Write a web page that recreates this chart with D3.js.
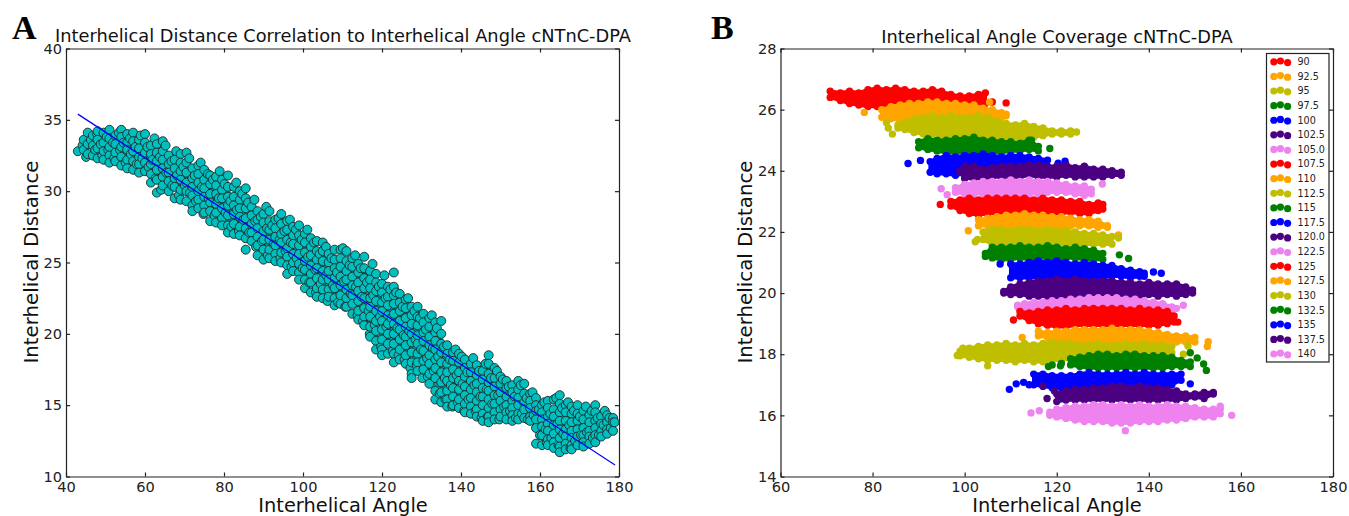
<!DOCTYPE html>
<html><head><meta charset="utf-8">
<script src="https://cdn.jsdelivr.net/npm/d3@7"></script>
<style>
html,body{margin:0;padding:0;background:#fff;overflow:hidden}
svg{display:block}
text{font-family:"DejaVu Sans",sans-serif;fill:#111}
.axis path,.axis line{stroke:#222;stroke-width:1.2;shape-rendering:auto}
.axis text{font-size:14.6px;fill:#222;font-family:"DejaVu Sans",sans-serif}
</style></head><body>
<svg id="chart" width="1349" height="516"></svg>
<script>
// ---------- Panel A: interhelical angle (column) and the distances read in that column ----------
const scatterAngles=[43,44.5,45.5,46.8,48,49.5,51,52.5,54,55.5,57,58.5,60,61.5,63,64.5,66,67.5,69,70.5,72,73.5,75,76.5,78,79.5,81,82.5,84,85.5,87,88.5,90,91.5,93,94.5,96,97.5,99,100.5,102,103.5,105,106.5,108,109.5,111,112.5,114,115.5,117,118.5,120,121.5,123,124.5,126,127.5,129,130.5,132,133.5,135,136.5,138,139.5,141,142.5,144,145.5,147,148.5,150,151.5,153,154.5,156,157.5,159,160.5,162,163.5,165,166.5,168,169.5,171,172.5,174,175.5,177,178.5];
const scatterDistances=[
[32.8],[33.6,32.9],[34.1,33.3,32.6],[33.9,33.2,32.5],[34.2,33.6,33.0,32.3],[34.1,33.4,32.8,32.2],[34.3,33.7,33.1,32.5,32.0],[33.9,33.3,32.7,32.1],[34.3,33.8,33.1,32.4,31.8],[34.0,33.4,32.9,32.2,31.6],[34.1,33.5,32.8,32.1,31.5],[33.6,33.0,32.4,31.9,31.3],[34.0,33.4,32.7,32.0,31.4],[33.2,32.6,31.9,31.2,30.6],[33.3,32.7,32.1,31.5,30.8,29.9],[33.5,32.8,32.2,31.6,31.0,30.4],[32.5,31.9,31.3,30.7,30.0],[32.2,31.6,30.9,30.3,29.5],[32.6,32.0,31.4,30.8,30.1,29.4],[32.7,32.0,31.3,30.6,30.0,29.3],[31.6,30.9,30.3,29.7,29.0,28.6],[31.8,31.2,30.6,30.0,29.4,28.8],[31.5,30.8,30.2,29.6,29.0,28.5],[31.1,30.5,29.8,29.2,28.6,27.9],[31.0,30.4,29.8,29.1,28.5,27.8],[30.8,30.1,29.5,28.8,28.1,27.6],[31.1,30.3,29.6,29.0,28.3,27.6,27.1],[30.3,29.6,29.0,28.4,27.7,27.0],[30.0,29.4,28.8,28.2,27.5,26.9],[30.2,29.5,28.8,28.1,27.4,26.7,25.9],[28.9,28.3,27.7,27.1,26.5],[28.6,28.0,27.4,26.8,26.2,25.5],[28.4,27.8,27.2,26.6,25.9,25.2],[28.6,27.9,27.3,26.6,25.9,25.3],[28.0,27.4,26.8,26.2,25.6,25.1],[28.4,27.7,27.0,26.4,25.7,25.0],[27.9,27.3,26.6,26.0,25.4,24.8,24.2],[27.5,26.9,26.3,25.6,25.0,24.4],[27.6,26.9,26.2,25.6,24.9,24.3,23.8],[27.0,26.4,25.7,25.1,24.5,23.8,23.2],[26.7,26.1,25.5,24.8,24.2,23.6,22.9],[26.5,25.8,25.2,24.6,23.9,23.2,22.6],[26.4,25.8,25.1,24.4,23.8,23.1,22.5],[25.6,25.0,24.4,23.8,23.1,22.6],[25.9,25.2,24.6,23.9,23.2,22.5,22.0],[25.9,25.3,24.7,24.0,23.4,22.7,22.1],[25.8,25.1,24.4,23.8,23.1,22.5,21.9],[25.3,24.7,24.0,23.4,22.7,22.1,21.4],[24.9,24.3,23.6,23.0,22.3,21.6,21.0],[25.4,24.6,23.9,23.2,22.5,21.8,21.2,20.6],[24.4,23.8,23.2,22.5,21.9,21.2,20.5,19.8],[24.2,23.6,23.0,22.3,21.6,20.9,20.2,19.5,18.9],[23.5,22.9,22.2,21.6,20.9,20.3,19.6,18.9,18.5],[23.3,22.6,22.0,21.3,20.7,20.0,19.3,18.6],[24.3,23.3,22.7,22.1,21.4,20.7,20.0,19.3,18.6,18.0],[22.8,22.2,21.6,20.9,20.3,19.6,18.9,18.2],[22.4,21.8,21.1,20.5,19.8,19.2,18.5,17.9],[21.9,21.3,20.7,20.0,19.4,18.7,18.0,17.2,16.9],[21.9,21.2,20.6,19.9,19.3,18.6,18.0,17.4],[21.4,20.8,20.1,19.5,18.8,18.1,17.5],[21.1,20.5,19.8,19.2,18.5,17.9,17.2,16.5],[20.8,20.1,19.5,18.9,18.2,17.6,16.9,16.0,15.4],[20.9,20.0,19.3,18.7,18.0,17.3,16.6,15.9,15.2],[19.2,18.6,17.9,17.3,16.7,16.0,15.4,14.9],[18.7,18.1,17.5,16.9,16.2,15.6,15.0],[18.6,18.0,17.3,16.7,16.1,15.4,14.8],[18.2,17.6,17.0,16.3,15.7,15.1,14.5],[17.9,17.3,16.7,16.1,15.5,14.9,14.4],[17.8,17.1,16.5,15.9,15.3,14.7,14.2],[17.4,16.8,16.2,15.6,15.0,14.4,13.9],[18.5,17.9,17.2,16.6,16.0,15.4,14.8,14.2,13.8],[17.6,16.9,16.3,15.7,15.1,14.5,14.0],[17.0,16.5,15.9,15.3,14.7,14.2],[16.7,16.2,15.6,15.0,14.5,14.0],[16.4,15.9,15.3,14.8,14.3,13.9],[16.7,16.1,15.5,15.0,14.4,14.0],[16.5,15.8,15.2,14.7,14.1],[15.8,15.3,14.8,14.2,13.9],[15.5,15.0,14.6,14.0,13.4,12.3],[15.0,14.5,14.0,13.5,12.9,12.2],[15.3,14.8,14.2,13.7,13.2,12.6,12.2],[15.4,14.7,14.2,13.6,13.0,12.4,12.0],[15.7,15.1,14.5,13.9,13.3,12.7,12.1,11.7],[15.0,14.5,13.9,13.3,12.8,12.3,11.9],[14.9,14.4,13.8,13.2,12.7,12.2,11.9],[15.0,14.4,13.9,13.3,12.8,12.2],[14.6,14.0,13.4,12.9,12.4,12.1],[14.3,13.8,13.2,12.8,12.3],[15.0,14.5,13.9,13.4,12.9,12.4],[14.2,13.7,13.2,12.8],[14.3,13.8,13.3,13.0],[14.1,13.8,13.2]];
// further points that sit between those columns: [angle, distance]
const scatterInBetween=[[44.2,33.2],[45.1,32.4],[46.3,33.6],[47.4,32.9],[47.9,34.0],[48.8,33.3],[49.2,32.5],[50.3,33.8],[50.7,32.9],[51.9,33.4],[52.2,32.3],[53.4,34.1],[53.7,32.9],[54.6,33.4],[55.1,32.0],[56.2,33.7],[56.4,32.6],[57.6,33.1],[57.9,31.9],[58.9,33.9],[59.3,32.3],[60.6,33.1],[60.9,31.7],[61.9,32.2],[62.4,33.7],[62.7,30.9],[63.8,32.4],[64.1,30.1],[65.2,33.2],[65.4,31.3],[66.7,32.1],[66.9,30.4],[67.9,32.8],[68.1,31.1],[68.6,29.7],[69.7,31.7],[70.1,30.4],[71.2,32.3],[71.4,29.9],[72.6,31.1],[72.9,29.3],[74.1,32.0],[74.4,30.3],[74.8,28.4],[75.9,31.2],[76.1,29.5],[77.2,30.8],[77.6,28.3],[78.7,29.5],[78.9,31.4],[80.1,30.5],[80.4,28.5],[81.6,29.3],[81.9,27.5],[83.1,30.6],[83.3,28.7],[83.8,27.2],[84.6,29.8],[84.9,28.0],[86.1,29.2],[86.4,27.1],[87.7,29.4],[87.9,27.9],[88.1,26.1],[89.3,28.2],[89.6,26.5],[90.7,28.9],[90.9,27.4],[91.1,25.5],[92.2,27.6],[92.6,26.3],[93.8,28.1],[94.1,26.6],[94.3,25.3],[95.3,27.2],[95.6,25.8],[96.7,28.0],[96.9,26.4],[97.1,24.7],[98.2,27.3],[98.4,25.3],[99.7,26.6],[99.9,24.6],[101.1,27.3],[101.3,25.4],[101.6,23.6],[102.8,26.4],[103.1,24.5],[103.3,22.9],[104.2,25.6],[104.5,23.5],[105.8,26.1],[105.9,24.1],[106.2,22.3],[107.2,25.3],[107.6,23.4],[108.6,24.3],[108.9,22.2],[110.1,26.0],[110.4,23.7],[110.7,21.9],[111.8,24.8],[112.1,22.8],[113.2,25.5],[113.4,23.3],[113.8,21.3],[114.6,24.6],[114.9,22.6],[115.2,20.9],[116.2,23.6],[116.6,21.6],[116.9,20.0],[117.6,24.9],[117.8,22.7],[118.2,20.6],[119.2,23.3],[119.5,21.2],[119.8,19.1],[120.6,24.1],[120.9,22.5],[121.1,20.5],[122.1,23.1],[122.4,21.1],[122.7,18.8],[123.6,22.9],[123.9,20.4],[124.2,18.5],[125.2,21.9],[125.5,19.9],[125.7,18.2],[126.6,22.5],[126.9,20.2],[127.2,17.6],[128.2,21.6],[128.5,19.6],[128.8,17.8],[129.6,21.1],[129.9,18.9],[130.2,16.9],[131.1,20.3],[131.4,18.3],[131.6,17.0],[132.6,21.3],[132.9,19.0],[133.1,17.4],[133.9,20.4],[134.2,18.4],[134.6,15.8],[135.7,19.1],[135.9,16.9],[136.1,15.4],[137.2,18.2],[137.4,16.4],[137.8,14.9],[138.6,18.9],[138.9,17.1],[139.2,15.2],[140.2,18.4],[140.4,16.5],[140.8,14.6],[141.6,17.3],[141.9,15.4],[143.1,18.3],[143.4,16.4],[143.7,14.6],[144.6,17.4],[144.9,15.6],[145.2,14.1],[146.2,17.9],[146.5,16.1],[146.8,14.2],[147.6,16.9],[147.9,15.1],[149.1,17.4],[149.4,15.7],[149.7,14.0],[150.6,16.8],[150.9,14.9],[152.1,16.3],[152.4,14.6],[153.6,15.6],[153.9,14.1],[155.1,16.4],[155.4,14.4],[156.6,15.5],[156.9,14.0],[158.1,15.9],[158.4,14.3],[159.7,14.7],[160,12.9],[161.1,15.2],[161.4,13.3],[161.7,12.4],[162.6,14.4],[162.9,12.7],[164.1,15.5],[164.4,13.7],[164.7,12.2],[165.6,14.8],[165.9,13.0],[167.1,15.2],[167.4,13.6],[167.7,12.0],[168.6,14.6],[168.9,12.5],[170.1,14.2],[170.4,12.9],[171.6,14.9],[171.9,13.1],[173.1,14.6],[173.4,12.7],[174.6,14.1],[174.9,12.9],[176.1,13.6],[176.4,14.6],[177.6,14.1],[177.9,13.4],[178.9,13.8]];
const fitLineAngle=[43,179];
const fitLineDistance=[35.4,10.8];

// ---------- Panel B: legend labels, colours, band edges [angle, top distance, bottom distance] and stray points ----------
const seriesLabels=["90","92.5","95","97.5","100","102.5","105.0","107.5","110","112.5","115","117.5","120.0","122.5","125","127.5","130","132.5","135","137.5","140"];
const seriesColours=["#ff0000","#ffa500","#bfbf00","#008000","#0000ff","#4b0082","#ee82ee"];
const band90=[[70.8,26.6,26.4],[73,26.55,26.3],[75,26.6,26.2],[77,26.55,26.15],[79,26.65,26.1],[81,26.7,26.1],[83,26.65,26.15],[85,26.7,26.15],[87,26.65,26.15],[89,26.6,26.1],[91,26.6,26.1],[93,26.65,26.15],[95,26.6,26.1],[97,26.5,26.1],[99,26.45,26.1],[101,26.45,26.1],[103,26.5,26.15],[104.5,26.55,26.2]];
const band92=[[82,26.0,25.75],[84,26.1,25.7],[86,26.15,25.65],[88,26.2,25.6],[90,26.2,25.55],[92,26.25,25.6],[94,26.25,25.6],[96,26.2,25.6],[98,26.2,25.6],[100,26.15,25.6],[102,26.15,25.65],[104,26.05,25.65],[106,26.0,25.7],[108,25.9,25.75],[109,25.85,25.8]];
const band95=[[85.5,25.5,25.4],[87,25.6,25.35],[89,25.7,25.25],[91,25.75,25.2],[93,25.8,25.2],[95,25.75,25.15],[97,25.8,25.15],[99,25.75,25.15],[101,25.75,25.15],[103,25.8,25.1],[105,25.75,25.1],[107,25.65,25.1],[109,25.55,25.1],[111,25.5,25.1],[113,25.55,25.05],[115,25.45,25.1],[117,25.4,25.15],[119,25.3,25.2],[121,25.3,25.2],[123,25.3,25.2]];
const band97=[[90,24.95,24.75],[92,25.05,24.7],[94,25.0,24.65],[96,25.0,24.6],[98,25.05,24.6],[100,25.05,24.6],[102,25.1,24.6],[104,25.0,24.6],[106,25.0,24.6],[108,24.95,24.6],[110,24.95,24.65],[112,24.9,24.65],[114,25.0,24.7],[116,24.8,24.65]];
const band100=[[92.5,24.3,23.95],[94,24.4,23.9],[96,24.5,23.9],[98,24.45,23.85],[100,24.5,23.9],[102,24.5,24.0],[104,24.55,24.0],[106,24.5,24.0],[108,24.45,24.0],[110,24.5,24.0],[112,24.5,24.0],[114,24.45,24.0],[116,24.4,24.0],[118,24.35,24.05]];
const band102=[[99,24.0,23.95],[100,24.15,23.75],[102,24.15,23.75],[104,24.05,23.75],[106,24.1,23.8],[108,24.15,23.8],[110,24.15,23.8],[112,24.15,23.8],[114,24.2,23.85],[116,24.2,23.8],[118,24.15,23.8],[120,24.15,23.8],[122,24.2,23.85],[124,24.1,23.8],[126,24.15,23.8],[128,24.05,23.8],[130,24.05,23.8],[132,24.0,23.85],[134,23.95,23.85]];
const band105=[[98,23.45,23.3],[100,23.55,23.25],[102,23.6,23.25],[104,23.65,23.25],[106,23.65,23.25],[108,23.65,23.25],[110,23.7,23.25],[112,23.65,23.25],[114,23.7,23.25],[116,23.65,23.25],[118,23.65,23.3],[120,23.6,23.3],[122,23.55,23.3],[124,23.5,23.25],[126,23.5,23.2],[127.5,23.4,23.25]];
const band107=[[97,23.0,22.85],[99,23.05,22.7],[101,23.1,22.6],[103,23.05,22.55],[105,23.1,22.6],[107,23.1,22.6],[109,23.1,22.6],[111,23.1,22.6],[113,23.1,22.6],[115,23.05,22.6],[117,23.1,22.6],[119,23.05,22.6],[121,23.05,22.6],[123,23.0,22.65],[125,23.0,22.6],[127,22.9,22.6],[129,22.95,22.7],[130,22.9,22.75]];
const band110=[[103,22.4,22.2],[105,22.45,22.2],[107,22.5,22.2],[109,22.55,22.2],[111,22.55,22.2],[113,22.6,22.2],[115,22.55,22.2],[117,22.55,22.2],[119,22.5,22.2],[121,22.5,22.2],[123,22.45,22.2],[125,22.4,22.2],[127,22.4,22.2],[129,22.35,22.15],[131,22.2,22.15]];
const band112=[[104,22.0,21.75],[106,22.1,21.6],[108,22.1,21.6],[110,22.05,21.6],[112,22.1,21.6],[114,22.1,21.6],[116,22.05,21.6],[118,22.1,21.6],[120,22.05,21.6],[122,22.05,21.6],[124,22.0,21.6],[126,21.95,21.6],[128,21.95,21.6],[130,21.9,21.6],[132,21.85,21.6]];
const band115=[[104.5,21.3,21.2],[106,21.5,21.15],[108,21.5,21.1],[110,21.5,21.1],[112,21.55,21.15],[114,21.5,21.1],[116,21.5,21.15],[118,21.55,21.15],[120,21.5,21.1],[122,21.45,21.15],[124,21.5,21.15],[126,21.45,21.1],[128,21.4,21.1],[130,21.3,21.1]];
const band117=[[110,20.95,20.5],[112,20.95,20.5],[114,21.0,20.5],[116,21.05,20.5],[118,21.0,20.5],[120,21.05,20.5],[122,21.0,20.5],[124,20.95,20.5],[126,21.0,20.5],[128,20.95,20.5],[130,20.9,20.5],[132,20.9,20.55],[134,20.8,20.55],[136,20.75,20.5],[138,20.7,20.55],[139,20.65,20.55]];
const band120=[[108.5,20.05,20.0],[110,20.2,19.95],[112,20.3,19.95],[114,20.35,19.9],[116,20.4,19.9],[118,20.4,19.9],[120,20.45,19.9],[122,20.4,19.9],[124,20.45,19.95],[126,20.4,19.9],[128,20.4,19.9],[130,20.4,19.9],[132,20.4,19.9],[134,20.35,19.9],[136,20.35,19.85],[138,20.3,19.9],[140,20.35,19.95],[142,20.3,19.9],[144,20.3,19.95],[146,20.3,19.9],[148,20.2,19.95],[149.5,20.1,20.0]];
const band122=[[111.5,19.6,19.55],[113,19.65,19.5],[115,19.7,19.5],[117,19.7,19.5],[119,19.75,19.5],[121,19.75,19.5],[123,19.8,19.5],[125,19.8,19.5],[127,19.85,19.5],[129,19.85,19.5],[131,19.85,19.5],[133,19.85,19.5],[135,19.8,19.5],[137,19.8,19.5],[139,19.75,19.5],[141,19.7,19.5],[143,19.65,19.5],[145,19.55,19.45]];
const band125=[[112,19.4,19.25],[114,19.35,19.1],[116,19.4,19.0],[118,19.45,18.95],[120,19.45,18.9],[122,19.5,18.9],[124,19.45,18.95],[126,19.5,18.95],[128,19.5,18.95],[130,19.5,18.95],[132,19.5,18.95],[134,19.5,18.95],[136,19.45,18.95],[138,19.5,18.95],[140,19.45,18.95],[142,19.45,18.95],[144,19.4,19.0],[145.5,19.25,19.05]];
const band127=[[116,18.75,18.6],[118,18.7,18.55],[120,18.75,18.5],[122,18.75,18.5],[124,18.8,18.4],[126,18.8,18.4],[128,18.8,18.4],[130,18.8,18.4],[132,18.85,18.4],[134,18.8,18.4],[136,18.8,18.4],[138,18.8,18.4],[140,18.75,18.4],[142,18.7,18.4],[144,18.65,18.4],[146,18.6,18.4],[148,18.6,18.4],[150,18.55,18.4]];
const band130=[[99,18.1,17.95],[101,18.2,17.9],[103,18.25,17.85],[105,18.3,17.8],[107,18.3,17.8],[109,18.35,17.8],[111,18.3,17.75],[113,18.35,17.8],[115,18.3,17.75],[117,18.35,17.75],[119,18.4,17.8],[121,18.35,17.8],[123,18.35,17.85],[125,18.3,17.85],[127,18.3,17.9],[129,18.35,17.9],[131,18.3,17.95],[133,18.3,17.95],[135,18.35,17.95],[137,18.3,18.0],[139,18.35,18.0],[141,18.3,18.0],[143,18.3,18.0],[145,18.25,18.05]];
const band132=[[123,17.85,17.65],[125,17.9,17.6],[127,17.95,17.55],[129,18.0,17.55],[131,18.0,17.55],[133,17.95,17.55],[135,18.0,17.55],[137,18.0,17.55],[139,17.95,17.55],[141,17.95,17.55],[143,17.95,17.55],[145,17.9,17.6],[147,17.8,17.6],[149,17.75,17.6]];
const band135=[[115,17.35,17.0],[117,17.35,16.95],[119,17.3,16.9],[121,17.3,16.9],[123,17.3,16.9],[125,17.35,16.95],[127,17.4,17.0],[129,17.35,16.95],[131,17.35,17.0],[133,17.35,17.0],[135,17.4,17.0],[137,17.35,17.0],[139,17.4,17.0],[141,17.35,17.0],[143,17.35,17.0],[145,17.35,17.0],[147,17.35,17.15]];
const band137=[[120,16.7,16.45],[122,16.8,16.5],[124,16.85,16.5],[126,16.85,16.5],[128,16.9,16.5],[130,16.9,16.5],[132,16.95,16.5],[134,16.95,16.5],[136,16.9,16.5],[138,16.95,16.5],[140,16.9,16.5],[142,16.9,16.5],[144,16.85,16.5],[146,16.8,16.5],[148,16.7,16.55],[150,16.7,16.6],[152,16.75,16.55],[154,16.75,16.7]];
const band140=[[118.5,16.1,16.0],[120,16.2,15.95],[122,16.25,15.9],[124,16.3,15.85],[126,16.3,15.8],[128,16.35,15.8],[130,16.35,15.8],[132,16.3,15.75],[134,16.35,15.75],[136,16.3,15.75],[138,16.35,15.8],[140,16.3,15.8],[142,16.3,15.8],[144,16.35,15.85],[146,16.3,15.85],[148,16.3,15.9],[150,16.25,15.95],[152,16.2,15.95],[154,16.2,15.95],[155.5,16.2,16.05]];
const seriesBands=[band90,band92,band95,band97,band100,band102,band105,band107,band110,band112,band115,band117,band120,band122,band125,band127,band130,band132,band135,band137,band140];
const seriesStrays=[
[[106,26.25],[109,26.22]],
[[78.2,25.91],[105.4,26.24]],
[[83,25.58],[83.4,25.4],[84.3,25.2],[124.3,25.27]],
[[118.5,24.73],[114.5,25.0]],
[[87.7,24.24],[90.4,24.34],[121.8,24.31],[120.3,24.25]],
[],
[[94.9,23.41],[96.2,23.22],[129.9,23.57]],
[[94.7,22.9]],
[[100.8,22.04],[133.4,21.9]],
[[102.3,21.68],[133.4,21.8],[102.8,21.75]],
[[133.6,21.25],[135.6,21.13]],
[[141,20.69],[142.7,20.65],[107.7,20.95]],
[],
[[147.5,19.6],[146,19.5]],
[[110.6,19.12],[146.3,19.05]],
[[112.5,18.55],[152.9,18.41],[152.7,18.25]],
[[98.4,17.96],[99.6,18.2],[105,17.62],[148.5,18.27],[147.5,18.0]],
[[118.2,17.6],[119,17.65],[120.8,17.62],[121,17.7],[150.5,17.88],[151.9,17.68],[152.5,17.47],[149,18.05]],
[[109.7,16.85],[111.2,17.03],[112.8,17.08],[114,17.0],[149,17.03]],
[[117,16.95],[117.9,16.55],[119.5,16.8]],
[[114.4,16.08],[116.2,16.15],[158,16.0],[134.9,15.5],[155.5,16.3]]
];
const xTicksA=[40,60,80,100,120,140,160,180], yTicksA=[10,15,20,25,30,35,40];
const xTicksB=[60,80,100,120,140,160,180], yTicksB=[14,16,18,20,22,24,26,28];

// ---------- layout ----------
const svg=d3.select("#chart");
const top_=48.5, bottom=476.5;
const xA=d3.scaleLinear([40,180],[66,619]), yA=d3.scaleLinear([10,40],[bottom,top_]);
const xB=d3.scaleLinear([60,180],[780.5,1333]), yB=d3.scaleLinear([14,28],[bottom,top_]);

function frame(x,y,xt,yt){
  const g=svg.append("g");
  g.append("g").attr("class","axis").attr("transform",`translate(0,${bottom})`)
    .call(d3.axisBottom(x).tickValues(xt).tickFormat(d3.format("d")).tickSizeInner(-4).tickSizeOuter(0).tickPadding(5))
    .call(s=>s.selectAll("text").attr("dy","0.71em").attr("y",5.5));
  g.append("g").attr("class","axis").attr("transform",`translate(0,${top_})`)
    .call(d3.axisTop(x).tickValues(xt).tickFormat("").tickSizeInner(-4).tickSizeOuter(0));
  g.append("g").attr("class","axis").attr("transform",`translate(${x.range()[0]},0)`)
    .call(d3.axisLeft(y).tickValues(yt).tickFormat(d3.format("d")).tickSizeInner(-4).tickSizeOuter(0).tickPadding(4));
  g.append("g").attr("class","axis").attr("transform",`translate(${x.range()[1]},0)`)
    .call(d3.axisRight(y).tickValues(yt).tickFormat("").tickSizeInner(-4).tickSizeOuter(0));
}

// ---------- Panel A ----------
const columnsA=scatterAngles.map((a,i)=>({a,ys:scatterDistances[i]}));
const gA=svg.append("g");
gA.append("path")
  .datum(columnsA.filter(c=>c.ys.length>=4))
  .attr("fill","#0a9c9c")
  .attr("d",d3.area().x(c=>xA(c.a)).y0(c=>yA(c.ys[c.ys.length-2])).y1(c=>yA(c.ys[1])));
const pointsA=columnsA.flatMap(c=>c.ys.map(y=>({a:c.a,y})))
  .concat(scatterInBetween.map(d=>({a:d[0],y:d[1]})))
  .sort((p,q)=>d3.ascending(p.a,q.a));
gA.selectAll("circle").data(pointsA).join("circle")
  .attr("cx",d=>xA(d.a)).attr("cy",d=>yA(d.y)).attr("r",4.5)
  .attr("fill","#00bfbf").attr("stroke","#1c2a2a").attr("stroke-width",0.9);
gA.append("path")
  .datum(fitLineAngle.map((a,i)=>[a,fitLineDistance[i]]))
  .attr("fill","none").attr("stroke","#0000ff").attr("stroke-width",1.2)
  .attr("d",d3.line().x(d=>xA(d[0])).y(d=>yA(d[1])));
frame(xA,yA,xTicksA,yTicksA);

// ---------- Panel B ----------
const gB=svg.append("g");
const colourOf=i=>seriesColours[i%seriesColours.length];
seriesBands.forEach((band,i)=>{
  const c=colourOf(i), s=gB.append("g").attr("fill",c);
  s.append("path").datum(band)
    .attr("d",d3.area().x(d=>xB(d[0])).y0(d=>yB(d[2])).y1(d=>yB(d[1])))
    .attr("stroke",c).attr("stroke-width",3.5).attr("stroke-linejoin","round");
  const pts=band.flatMap(d=>[[d[0],d[1]],[d[0],d[2]]]).concat(seriesStrays[i]);
  s.selectAll("circle").data(pts).join("circle")
    .attr("cx",d=>xB(d[0])).attr("cy",d=>yB(d[1])).attr("r",3.7);
});
frame(xB,yB,xTicksB,yTicksB);

// legend
const legend=svg.append("g");
legend.append("rect").attr("x",1266.5).attr("y",53.5).attr("width",62.5).attr("height",308.5)
  .attr("fill","#fff").attr("stroke","#222").attr("stroke-width",1.2);
const rowY=d3.scalePoint(seriesLabels,[61.8,354]);
seriesLabels.forEach((lab,i)=>{
  const y=rowY(lab);
  [[1273.8,0],[1280.4,-0.8],[1287.6,0.8]].forEach(([x,dy])=>
    legend.append("circle").attr("cx",x).attr("cy",y+dy).attr("r",3.6).attr("fill",colourOf(i)));
  legend.append("text").attr("x",1297.5).attr("y",y).attr("dy","0.35em")
    .attr("font-size",9.6).style("fill","#222").text(lab);
});

// ---------- text ----------
function label(t,x,y,size,rot){
  const e=svg.append("text").attr("x",x).attr("y",y).attr("text-anchor","middle").attr("font-size",size).text(t);
  if(rot) e.attr("transform",`rotate(-90 ${x} ${y})`);
  return e;
}
label("Interhelical Distance Correlation to Interhelical Angle cNTnC-DPA",343,42,17.8);
label("Interhelical Angle Coverage cNTnC-DPA",1057,43,17.8);
label("Interhelical Angle",343,512,19.4);
label("Interhelical Angle",1057,512,19.4);
label("Interhelical Distance",38,262,19.8,true);
label("Interhelical Distance",752,262,19.8,true);
svg.append("text").attr("x",12).attr("y",39).attr("font-size",34).attr("font-weight","bold")
  .style("font-family","'Liberation Serif',serif").style("fill","#000").text("A");
svg.append("text").attr("x",711).attr("y",39).attr("font-size",34).attr("font-weight","bold")
  .style("font-family","'Liberation Serif',serif").style("fill","#000").text("B");
</script>
</body></html>
